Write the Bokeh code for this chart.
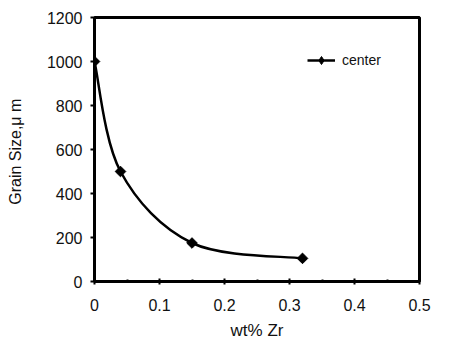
import numpy as np
from bokeh.plotting import figure
from bokeh.models import Legend, LegendItem, FixedTicker, ColumnDataSource
from bokeh.embed import file_html
from bokeh.resources import INLINE

# data
zr_wt = [0.0, 0.04, 0.15, 0.32]
grain_size = [1000, 500, 175, 105]
series_name = "center"
x_ticks = [0, 0.1, 0.2, 0.3, 0.4, 0.5]
y_ticks = [0, 200, 400, 600, 800, 1000, 1200]

FONT = "Liberation Sans"

p = figure(width=450, height=342, x_range=(0, 0.5), y_range=(0, 1200),
           output_backend="svg", toolbar_location=None,
           min_border_left=94, min_border_right=31, min_border_top=17, min_border_bottom=59)
p.background_fill_color = "white"
p.border_fill_color = "white"
p.grid.visible = False
p.outline_line_color = "black"
p.outline_line_width = 3

# axes
for ax in (p.xaxis[0], p.yaxis[0]):
    ax.axis_line_width = 3
    ax.axis_line_color = "black"
    ax.major_tick_line_width = 2
    ax.major_tick_line_color = "black"
    ax.major_label_text_font = FONT
    ax.major_label_text_font_size = "16px"
    ax.major_label_text_color = "#111111"
    ax.axis_label_text_font = FONT
    ax.axis_label_text_font_style = "normal"
    ax.axis_label_text_color = "#111111"

p.xaxis.ticker = FixedTicker(ticks=x_ticks, minor_ticks=[0.05, 0.15, 0.25, 0.35, 0.45])
p.xaxis.major_label_overrides = {0: "0"}
p.xaxis.major_tick_in = 3
p.xaxis.major_tick_out = 3
p.xaxis.minor_tick_in = 2
p.xaxis.minor_tick_out = 0
p.xaxis.minor_tick_line_width = 2
p.xaxis.major_label_standoff = 14
p.xaxis.axis_label = "wt% Zr"
p.xaxis.axis_label_text_font_size = "17px"
p.xaxis.axis_label_standoff = 7

p.yaxis.ticker = FixedTicker(ticks=y_ticks)
p.yaxis.major_tick_in = 0
p.yaxis.major_tick_out = 4
p.yaxis.minor_tick_line_color = None
p.yaxis.major_label_standoff = 8
p.yaxis.axis_label = "Grain  Size,\u03bc m"
p.yaxis.axis_label_text_font_size = "16px"
p.yaxis.axis_label_standoff = 20

# smooth curve (Catmull-Rom style Bezier segments through data points)
xs = np.array(zr_wt, dtype=float)
ys = np.array(grain_size, dtype=float)
n = len(xs)
xp = np.concatenate([[xs[0]], xs, [xs[-1]]])
yp = np.concatenate([[ys[0]], ys, [ys[-1]]])
seg = dict(x0=[], y0=[], x1=[], y1=[], cx0=[], cy0=[], cx1=[], cy1=[])
for i in range(n - 1):
    a, b = i + 1, i + 2
    seg["x0"].append(xp[a]); seg["y0"].append(yp[a])
    seg["x1"].append(xp[b]); seg["y1"].append(yp[b])
    seg["cx0"].append(xp[a] + (xp[b] - xp[a - 1]) / 6)
    seg["cy0"].append(yp[a] + (yp[b] - yp[a - 1]) / 6)
    seg["cx1"].append(xp[b] - (xp[b + 1] - xp[a]) / 6)
    seg["cy1"].append(yp[b] - (yp[b + 1] - yp[a]) / 6)
p.bezier(x0="x0", y0="y0", x1="x1", y1="y1", cx0="cx0", cy0="cy0", cx1="cx1", cy1="cy1",
         source=ColumnDataSource(seg), line_color="black", line_width=2.5)

src = ColumnDataSource(dict(x=zr_wt, y=grain_size))
p.scatter("x", "y", source=src, marker="square", angle=np.pi / 4, size=7.5,
          fill_color="black", line_color="black")

# legend glyphs
leg_line = p.line([np.nan], [np.nan], line_color="black", line_width=2.5)
leg_mark = p.scatter([np.nan], [np.nan], marker="diamond", size=12,
                     fill_color="black", line_color="black")
legend = Legend(items=[LegendItem(label=series_name, renderers=[leg_line, leg_mark])],
                location=(213, 211))
legend.background_fill_alpha = 0
legend.border_line_color = None
legend.padding = 0
legend.margin = 0
legend.glyph_width = 28
legend.glyph_height = 20
legend.label_standoff = 7
legend.label_text_font = FONT
legend.label_text_font_size = "14px"
legend.label_text_color = "#111111"
p.add_layout(legend, "center")

open("out.html", "w").write(file_html(p, INLINE))
